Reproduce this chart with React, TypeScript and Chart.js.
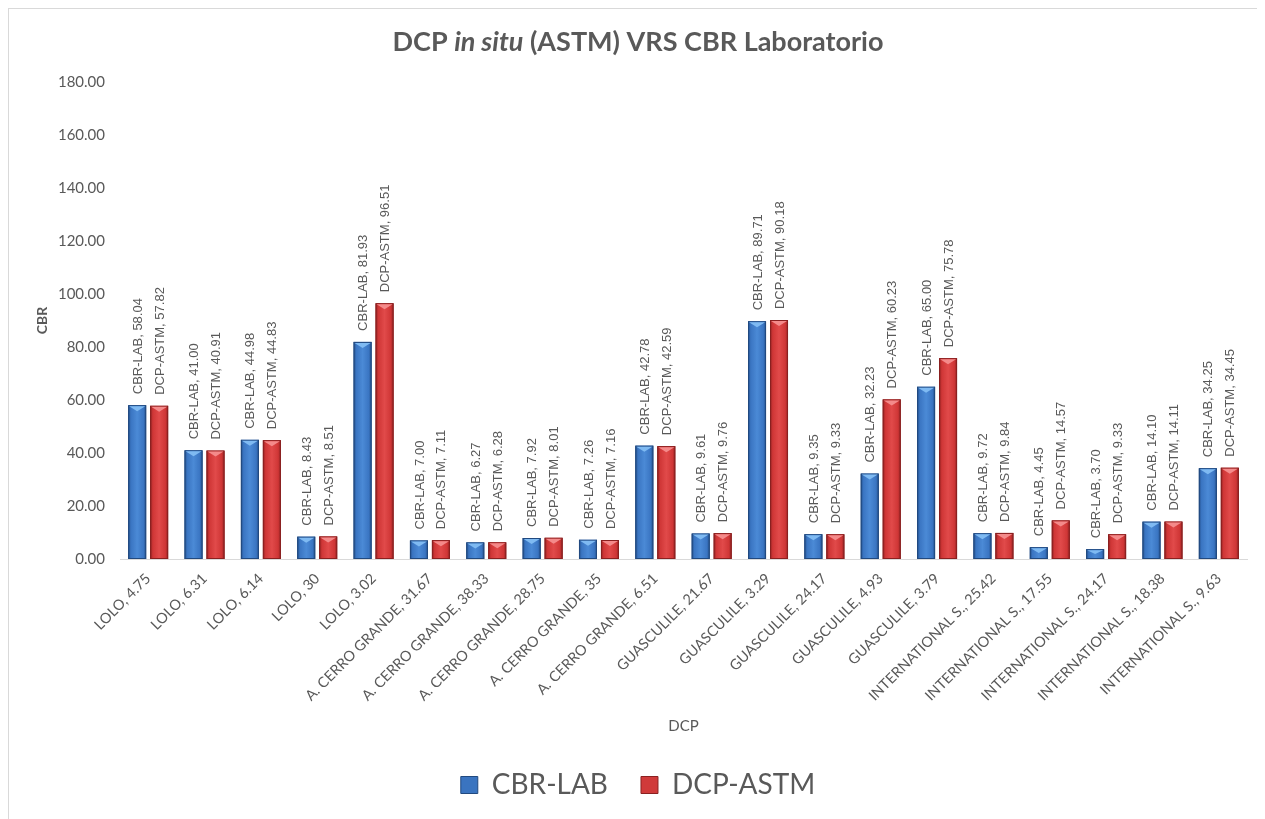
import React, { useEffect, useRef } from 'react';
import { Chart, registerables } from 'chart.js';

Chart.register(...registerables);

const categories = [
  'LOLO, 4.75', 'LOLO, 6.31', 'LOLO, 6.14', 'LOLO, 30', 'LOLO, 3.02',
  'A. CERRO GRANDE, 31.67', 'A. CERRO GRANDE, 38.33', 'A. CERRO GRANDE, 28.75', 'A. CERRO GRANDE, 35', 'A. CERRO GRANDE, 6.51',
  'GUASCULILE, 21.67', 'GUASCULILE, 3.29', 'GUASCULILE, 24.17', 'GUASCULILE, 4.93', 'GUASCULILE, 3.79',
  'INTERNATIONAL S., 25.42', 'INTERNATIONAL S., 17.55', 'INTERNATIONAL S., 24.17', 'INTERNATIONAL S., 18.38', 'INTERNATIONAL S., 9.63',
];

const cbrLab = [58.04, 41.0, 44.98, 8.43, 81.93, 7.0, 6.27, 7.92, 7.26, 42.78, 9.61, 89.71, 9.35, 32.23, 65.0, 9.72, 4.45, 3.7, 14.1, 34.25];
const dcpAstm = [57.82, 40.91, 44.83, 8.51, 96.51, 7.11, 6.28, 8.01, 7.16, 42.59, 9.76, 90.18, 9.33, 60.23, 75.78, 9.84, 14.57, 9.33, 14.11, 34.45];

const seriesNames = ['CBR-LAB', 'DCP-ASTM'];
const yMin = 0;
const yMax = 180;
const yStep = 20;

const titleParts = [
  { text: 'DCP ', italic: false },
  { text: 'in situ', italic: true },
  { text: ' (ASTM) VRS CBR Laboratorio', italic: false },
];
const xTitle = 'DCP';
const yTitle = 'CBR';

const shades = [
  { dark: '#234f8a', mid: '#3a75c2', light: '#4b8ad6', bevel: '#7fbaf2', edge: '#21497f', solid: '#3a74c0' },
  { dark: '#8f2121', mid: '#cf3636', light: '#e14a4a', bevel: '#f48a8a', edge: '#8a2020', solid: '#d03a3a' },
];

const GRAY = '#595959';
const CAL = 'Lato, "Open Sans", sans-serif';

const titlePlugin = {
  id: 'mixedTitle',
  afterDraw(chart: any) {
    const ctx = chart.ctx as CanvasRenderingContext2D;
    const size = 27;
    ctx.save();
    ctx.fillStyle = GRAY;
    ctx.textBaseline = 'middle';
    ctx.textAlign = 'left';
    const fonts = titleParts.map((p) => `${p.italic ? 'italic ' : ''}bold ${size}px ${CAL}`);
    const widths = titleParts.map((p, i) => {
      ctx.font = fonts[i];
      return ctx.measureText(p.text).width;
    });
    const total = widths.reduce((a, b) => a + b, 0);
    let x = 629 - total / 2;
    titleParts.forEach((p, i) => {
      ctx.font = fonts[i];
      ctx.fillText(p.text, x, 33);
      x += widths[i];
    });
    ctx.restore();
  },
};

const barPlugin = {
  id: 'bevelBars',
  afterDatasetsDraw(chart: any) {
    const ctx = chart.ctx as CanvasRenderingContext2D;
    chart.data.datasets.forEach((ds: any, di: number) => {
      const meta = chart.getDatasetMeta(di);
      const s = shades[di];
      meta.data.forEach((el: any, i: number) => {
        const { x, y, base, width } = el.getProps(['x', 'y', 'base', 'width'], true);
        const l = x - width / 2;
        const r = x + width / 2;
        const h = base - y;
        ctx.save();
        const g = ctx.createLinearGradient(l, 0, r, 0);
        g.addColorStop(0, s.dark);
        g.addColorStop(0.15, s.mid);
        g.addColorStop(0.5, s.light);
        g.addColorStop(0.85, s.mid);
        g.addColorStop(1, s.dark);
        ctx.fillStyle = g;
        ctx.fillRect(l, y, width, h);
        ctx.strokeStyle = s.edge;
        ctx.lineWidth = 1;
        ctx.strokeRect(l + 0.5, y + 0.5, width - 1, h - 1);
        const bh = Math.min(6, h / 2);
        ctx.beginPath();
        ctx.moveTo(l + 1, y + 1);
        ctx.lineTo(r - 1, y + 1);
        ctx.lineTo(x, y + bh);
        ctx.closePath();
        ctx.fillStyle = s.bevel;
        ctx.fill();
        // data label
        const v = ds.data[i] as number;
        const text = `${ds.label}, ${v.toFixed(2)}`;
        ctx.translate(x + 1, y - 11);
        ctx.rotate(-Math.PI / 2);
        ctx.font = '13px "Liberation Sans", Arial, sans-serif';
        ctx.fillStyle = GRAY;
        ctx.textAlign = 'left';
        ctx.textBaseline = 'middle';
        ctx.fillText(text, 0, 0);
        ctx.restore();
      });
    });
  },
};

export default function App() {
  const ref = useRef<HTMLCanvasElement | null>(null);

  useEffect(() => {
    document.documentElement.style.overflow = 'hidden';
    document.body.style.overflow = 'hidden';
    if (!ref.current) return;
    const chart = new Chart(ref.current, {
      type: 'bar',
      data: {
        labels: categories,
        datasets: [
          { label: seriesNames[0], data: cbrLab, backgroundColor: shades[0].solid, borderColor: shades[0].edge, borderWidth: 1 },
          { label: seriesNames[1], data: dcpAstm, backgroundColor: shades[1].solid, borderColor: shades[1].edge, borderWidth: 1 },
        ],
      },
      options: {
        responsive: false,
        animation: false,
        devicePixelRatio: 1,
        layout: { padding: { top: 73, left: 20, right: 18, bottom: 10 } },
        datasets: { bar: { categoryPercentage: 0.78, barPercentage: 0.82 } },
        plugins: {
          title: { display: false },
          tooltip: { enabled: false },
          legend: {
            position: 'bottom',
            labels: {
              color: GRAY,
              font: { family: CAL, size: 28 },
              boxWidth: 17,
              boxHeight: 17,
              padding: 33,
            },
          },
        },
        scales: {
          x: {
            grid: { display: false, drawTicks: false, tickLength: 0 },
            border: { display: true, color: '#d9d9d9', width: 1 },
            ticks: {
              color: GRAY,
              font: { family: CAL, size: 14.5 },
              autoSkip: false,
              maxRotation: 45,
              minRotation: 45,
              padding: 11,
            },
            title: {
              display: true,
              text: xTitle,
              color: GRAY,
              font: { family: CAL, size: 15, lineHeight: 1.2 },
              padding: { top: 0, bottom: 3 },
            },
            afterFit(scale: any) {
              scale.height = 179;
            },
          },
          y: {
            min: yMin,
            max: yMax,
            grid: { display: false, drawTicks: false, tickLength: 0 },
            border: { display: false },
            ticks: {
              stepSize: yStep,
              color: GRAY,
              font: { family: CAL, size: 15 },
              padding: 15,
              callback: (v: any) => Number(v).toFixed(2),
            },
            title: {
              display: true,
              text: yTitle,
              color: GRAY,
              font: { family: CAL, size: 14, weight: 'bold', lineHeight: 1.2 },
              padding: { top: 5, bottom: 0 },
            },
            afterFit(scale: any) {
              scale.width = 91;
            },
          },
        },
      },
      plugins: [titlePlugin, barPlugin],
    } as any);
    return () => chart.destroy();
  }, []);

  return (
    <div
      style={{
        position: 'relative',
        width: 1256,
        height: 810,
        borderLeft: '1px solid #d9d9d9',
        borderTop: '1px solid #d9d9d9',
        background: '#fff',
      }}
    >
      <canvas ref={ref} width={1256} height={810} style={{ display: 'block' }} />
    </div>
  );
}
